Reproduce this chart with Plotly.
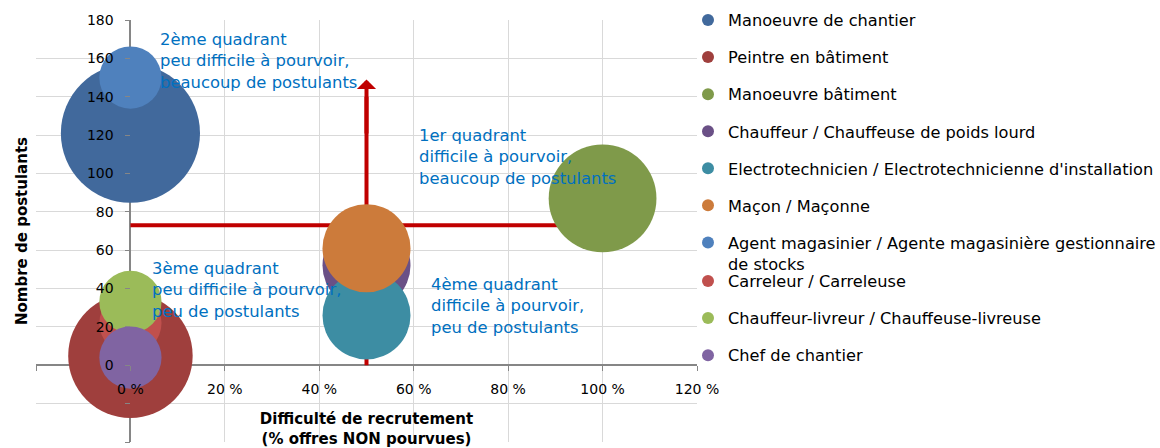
import plotly.graph_objects as go

# ---- data ----
metiers = [
    "Manoeuvre de chantier",
    "Peintre en bâtiment",
    "Manoeuvre bâtiment",
    "Chauffeur / Chauffeuse de poids lourd",
    "Electrotechnicien / Electrotechnicienne d'installation",
    "Maçon / Maçonne",
    "Agent magasinier / Agente magasinière gestionnaire<br>de stocks",
    "Carreleur / Carreleuse",
    "Chauffeur-livreur / Chauffeuse-livreuse",
    "Chef de chantier",
]
difficulte = [0, 0, 100, 50, 50, 50, 0, 0, 0, 0]          # % offres non pourvues
postulants = [121, 5, 87, 52, 26, 61, 150, 22, 33, 4]      # nombre de postulants
taille = [5, 4, 3, 2, 2, 2, 1, 1, 1, 1]                     # taille des bulles
couleurs = ["#41699C", "#9F3F3D", "#7F9A4A", "#6A5086", "#3D8DA3",
            "#CC7B3B", "#4F81BD", "#C0504D", "#9BBB59", "#8064A2"]

x_ticks = [-20, 0, 20, 40, 60, 80, 100, 120]
x_labels = ["", "0 %", "20 %", "40 %", "60 %", "80 %", "100 %", "120 %"]
y_ticks = [-40, -20, 0, 20, 40, 60, 80, 100, 120, 140, 160, 180]
y_labels = ["", "", "0", "20", "40", "60", "80", "100", "120", "140", "160", "180"]

seuil_postulants = 73
seuil_difficulte = 50
fleche_haut = 149

quadrants = [
    (5.9, 176, "2ème quadrant<br>peu difficile à pourvoir,<br>beaucoup de postulants"),
    (60.6, 126, "1er quadrant<br>difficile à pourvoir,<br>beaucoup de postulants"),
    (4.2, 56.5, "3ème quadrant<br>peu difficile à pourvoir,<br>peu de postulants"),
    (63.2, 48, "4ème quadrant<br>difficile à pourvoir,<br>peu de postulants"),
]

FONT = "DejaVu Sans"
RED = "#C00000"

fig = go.Figure()
for i, name in enumerate(metiers):
    fig.add_trace(go.Scatter(
        x=[difficulte[i]], y=[postulants[i]], mode="markers", name=name,
        legend="legend2" if i >= 7 else "legend",
        legendgroup=f"g{i}",
        marker=dict(size=[taille[i]], sizemode="area", sizeref=1 / 1936,
                    color=couleurs[i], opacity=1, line=dict(width=0)),
        hovertemplate=name + "<br>%{x} %, %{y}<extra></extra>",
    ))

# red quadrant lines (between grid and traces)
fig.add_shape(type="line", x0=0, x1=100, y0=seuil_postulants, y1=seuil_postulants,
              xref="x", yref="y", line=dict(color=RED, width=4), layer="between")
fig.add_shape(type="line", x0=seuil_difficulte, x1=seuil_difficulte, y0=0, y1=140,
              xref="x", yref="y", line=dict(color=RED, width=4), layer="between")
fig.add_annotation(x=seuil_difficulte, y=fleche_haut, ax=seuil_difficulte, ay=120,
                   xref="x", yref="y", axref="x", ayref="y", text="",
                   showarrow=True, arrowhead=1, arrowsize=0.8, arrowwidth=4,
                   arrowcolor=RED)

for qx, qy, txt in quadrants:
    fig.add_annotation(x=qx, y=qy, xref="x", yref="y", text=txt, showarrow=False,
                       xanchor="left", yanchor="top", align="left",
                       font=dict(family=FONT, size=16.4, color="#0070C0"))

axis_common = dict(showgrid=True, gridcolor="#D9D9D9", gridwidth=1.3,
                   zeroline=True, zerolinecolor="#868686", zerolinewidth=1.5,
                   showline=False, ticks="outside", ticklen=5, tickcolor="#868686",
                   tickwidth=1.3, tickfont=dict(family=FONT, size=14, color="#000000"),
                   anchor="free", automargin=False, layer="above traces")

legend_common = dict(xanchor="left", yanchor="top",
                     font=dict(family=FONT, size=16.2, color="#000000"),
                     itemsizing="constant", tracegroupgap=13, valign="top",
                     bgcolor="rgba(0,0,0,0)", maxheight=440)

# plot area: 661 x 422 px, from (36, 20)
def py(pix):
    return (442 - pix) / 422

fig.update_layout(
    width=1160, height=448,
    margin=dict(l=36, r=463, t=20, b=6, autoexpand=False),
    paper_bgcolor="white", plot_bgcolor="white",
    font=dict(family=FONT, color="#000000"),
    xaxis=dict(range=[-20, 120], tickmode="array", tickvals=x_ticks, ticktext=x_labels,
               position=40 / 220, ticklabelstandoff=6,
               title=dict(text="Difficulté de recrutement<br>(% offres NON pourvues)",
                          font=dict(family=FONT, size=15, weight="bold"), standoff=26),
               **axis_common),
    yaxis=dict(range=[-40, 180], tickmode="array", tickvals=y_ticks, ticktext=y_labels,
               position=20 / 140, ticklabelstandoff=9,
               title=dict(text="Nombre de postulants",
                          font=dict(family=FONT, size=15, weight="bold"), standoff=54),
               **axis_common),
    legend=dict(x=(688 - 36) / 661, y=py(3), **legend_common),
    legend2=dict(x=(688 - 36) / 661, y=py(264), **legend_common),
    showlegend=True,
)

fig.write_html("out.html", config={"displayModeBar": False},
               post_script="document.body.style.margin='0';")
